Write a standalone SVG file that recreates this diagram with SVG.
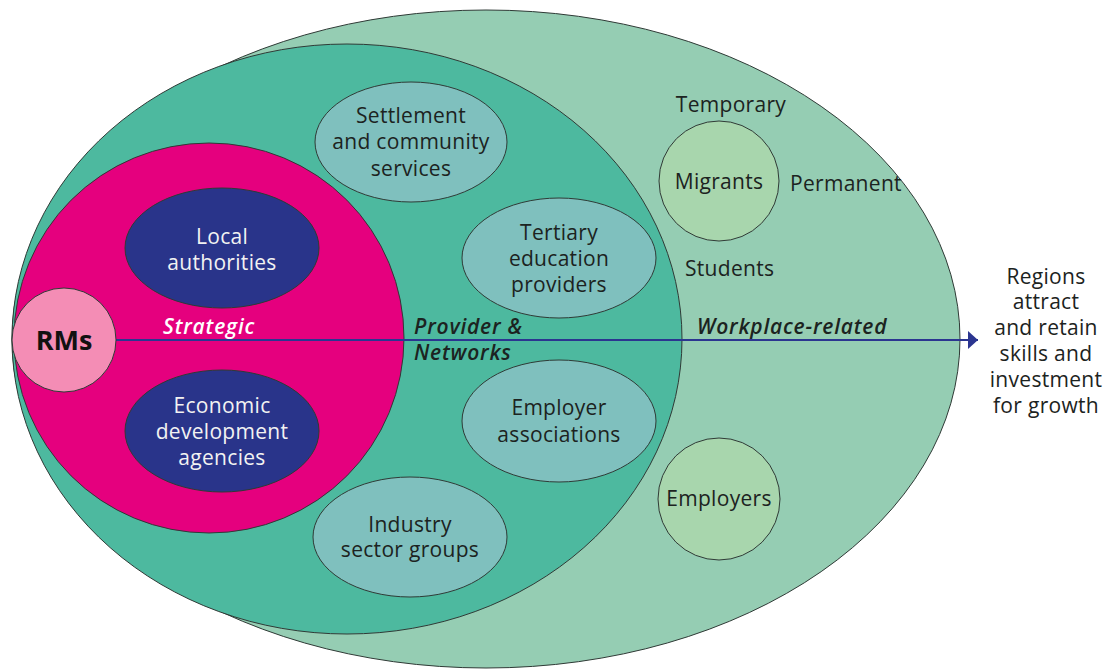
<svg xmlns="http://www.w3.org/2000/svg" width="1109" height="671" viewBox="0 0 1109 671">
  <style>
    .shape { stroke: #2f3a36; stroke-width: 1; }
    .outer { fill: #95cdb3; }
    .provider { fill: #4db99f; }
    .strategic { fill: #e5007e; }
    .agency { fill: #29348a; }
    .network { fill: #7fc0be; }
    .people { fill: #a8d6ad; }
    .rms { fill: #f48db5; }
    text { font-family: "Open Sans", "Noto Sans", "Liberation Sans", sans-serif; font-size: 21px; letter-spacing: 0.3px; }
    .dark { fill: #1c2321; }
    .light { fill: #f2f2f2; }
    .c { text-anchor: middle; }
    .tier { font-style: italic; font-weight: 600; letter-spacing: 0.8px; }
  </style>
  <defs>
    <marker id="arrowhead" markerWidth="10" markerHeight="18" refX="10" refY="9" orient="auto" markerUnits="userSpaceOnUse">
      <path d="M0,0 L10,9 L0,18 Z" fill="#2b3590"/>
    </marker>
  </defs>

  <!-- nested spheres of influence -->
  <g id="workplace-sphere">
    <ellipse class="shape outer" cx="486" cy="339" rx="474" ry="329"/>
  </g>
  <g id="provider-sphere">
    <ellipse class="shape provider" cx="347" cy="339" rx="335" ry="295"/>
  </g>
  <g id="strategic-sphere">
    <circle class="shape strategic" cx="209" cy="338" r="195"/>
  </g>

  <g id="local-authorities">
    <ellipse class="shape agency" cx="222" cy="248" rx="97" ry="60"/>
    <text class="light c" x="222" y="244">Local</text>
    <text class="light c" x="222" y="270">authorities</text>
  </g>
  <g id="economic-development">
    <ellipse class="shape agency" cx="222" cy="431" rx="97" ry="61"/>
    <text class="light c" x="222" y="413">Economic</text>
    <text class="light c" x="222" y="439">development</text>
    <text class="light c" x="222" y="465">agencies</text>
  </g>

  <g id="settlement-services">
    <ellipse class="shape network" cx="411" cy="142" rx="96" ry="60"/>
    <text class="dark c" x="411" y="123">Settlement</text>
    <text class="dark c" x="411" y="149">and community</text>
    <text class="dark c" x="411" y="176">services</text>
  </g>
  <g id="tertiary-education">
    <ellipse class="shape network" cx="559" cy="258" rx="97" ry="60"/>
    <text class="dark c" x="559" y="240">Tertiary</text>
    <text class="dark c" x="559" y="266">education</text>
    <text class="dark c" x="559" y="292">providers</text>
  </g>
  <g id="employer-associations">
    <ellipse class="shape network" cx="559" cy="421" rx="97" ry="61"/>
    <text class="dark c" x="559" y="415">Employer</text>
    <text class="dark c" x="559" y="442">associations</text>
  </g>
  <g id="industry-groups">
    <ellipse class="shape network" cx="410" cy="537" rx="97" ry="60"/>
    <text class="dark c" x="410" y="532">Industry</text>
    <text class="dark c" x="410" y="557">sector groups</text>
  </g>

  <g id="migrants">
    <circle class="shape people" cx="719" cy="181" r="60"/>
    <text class="dark c" x="719" y="189">Migrants</text>
  </g>
  <g id="employers">
    <circle class="shape people" cx="719" cy="499" r="61"/>
    <text class="dark c" x="719" y="506">Employers</text>
  </g>

  <!-- connector from RMs to outcome -->
  <g id="connectors">
    <line x1="116" y1="340" x2="978" y2="340" stroke="#2b3590" stroke-width="2" marker-end="url(#arrowhead)"/>
  </g>

  <g id="rms">
    <circle class="shape rms" cx="64" cy="340" r="52"/>
    <text class="c" x="64" y="350" style="font-size:27px;font-weight:700;letter-spacing:0;fill:#111">RMs</text>
  </g>

  <!-- tier and migrant labels -->
  <g id="labels">
    <text class="tier" x="163" y="334" fill="#ffffff">Strategic</text>
    <text class="tier dark" x="414" y="334">Provider &amp;</text>
    <text class="tier dark" x="414" y="360">Networks</text>
    <text class="tier dark" x="697" y="334">Workplace-related</text>
    <text class="dark c" x="731" y="112">Temporary</text>
    <text class="dark" x="790" y="191">Permanent</text>
    <text class="dark" x="685" y="276">Students</text>
  </g>

  <g id="outcome">
    <text class="dark c" x="1046" y="284">Regions</text>
    <text class="dark c" x="1046" y="309">attract</text>
    <text class="dark c" x="1046" y="335">and retain</text>
    <text class="dark c" x="1046" y="361">skills and</text>
    <text class="dark c" x="1046" y="387">investment</text>
    <text class="dark c" x="1046" y="413">for growth</text>
  </g>
</svg>
